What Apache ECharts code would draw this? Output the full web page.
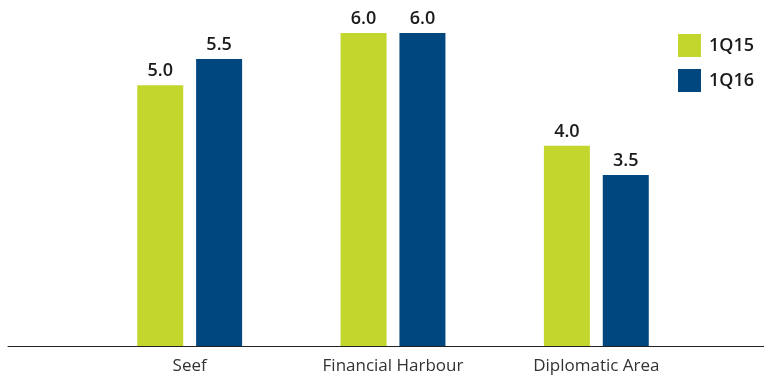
<!DOCTYPE html>
<html>
<head>
<meta charset="utf-8">
<script src="https://cdn.jsdelivr.net/npm/echarts@6/dist/echarts.min.js"></script>
<style>
html,body{margin:0;padding:0;background:#fff;}
#chart{width:764px;height:376px;}
</style>
</head>
<body>
<div id="chart"></div>
<script>
// Data
var categories = ['Seef', 'Financial Harbour', 'Diplomatic Area'];
var seriesNames = ['1Q15', '1Q16'];
// bar heights
var values1Q15 = [5.0, 6.0, 3.84];
var values1Q16 = [5.5, 6.0, 3.28];
// value labels as printed on the picture
var labels1Q15 = ['5.0', '6.0', '4.0'];
var labels1Q16 = ['5.5', '6.0', '3.5'];

var GREEN = '#C2D62E';
var BLUE = '#00467F';
var FONT = '"Open Sans", "Noto Sans", sans-serif';

var chart = echarts.init(document.getElementById('chart'), null, {renderer: 'canvas'});

function barLabel(arr) {
  return {
    show: true,
    position: 'top',
    distance: 5,
    fontFamily: FONT,
    fontSize: 18,
    fontWeight: 600,
    color: '#1a1a1a',
    formatter: function (p) { return arr[p.dataIndex]; }
  };
}

chart.setOption({
  animation: false,
  backgroundColor: '#ffffff',
  legend: {
    orient: 'vertical',
    left: 678,
    top: 34,
    padding: 0,
    itemWidth: 23,
    itemHeight: 23,
    itemGap: 12,
    icon: 'rect',
    data: seriesNames,
    textStyle: {
      fontFamily: FONT,
      fontSize: 18,
      fontWeight: 600,
      color: '#1a1a1a',
      padding: [0, 0, 0, 3]
    }
  },
  grid: [
    {left: 88, width: 610, top: 33, bottom: 30},
    {left: 8, right: 0, top: 33, bottom: 30}
  ],
  xAxis: [
    {
      type: 'category',
      gridIndex: 0,
      data: categories,
      axisLine: {show: false},
      axisTick: {show: false},
      axisLabel: {
        fontFamily: FONT,
        fontSize: 17,
        color: '#333333',
        margin: 12
      }
    },
    {
      type: 'category',
      gridIndex: 1,
      data: [''],
      axisLine: {show: true, lineStyle: {color: '#222222', width: 1}},
      axisTick: {show: false},
      axisLabel: {show: false}
    }
  ],
  yAxis: [
    {
      type: 'value',
      gridIndex: 0,
      min: 0,
      max: 6,
      show: false,
      splitLine: {show: false}
    },
    {
      type: 'value',
      gridIndex: 1,
      min: 0,
      max: 6,
      show: false,
      splitLine: {show: false}
    }
  ],
  series: [
    {
      name: seriesNames[0],
      type: 'bar',
      xAxisIndex: 0,
      yAxisIndex: 0,
      data: values1Q15,
      barWidth: 46,
      barGap: '28%',
      itemStyle: {color: GREEN},
      label: barLabel(labels1Q15)
    },
    {
      name: seriesNames[1],
      type: 'bar',
      xAxisIndex: 0,
      yAxisIndex: 0,
      data: values1Q16,
      barWidth: 46,
      barGap: '28%',
      itemStyle: {color: BLUE},
      label: barLabel(labels1Q16)
    }
  ]
});
</script>
</body>
</html>
